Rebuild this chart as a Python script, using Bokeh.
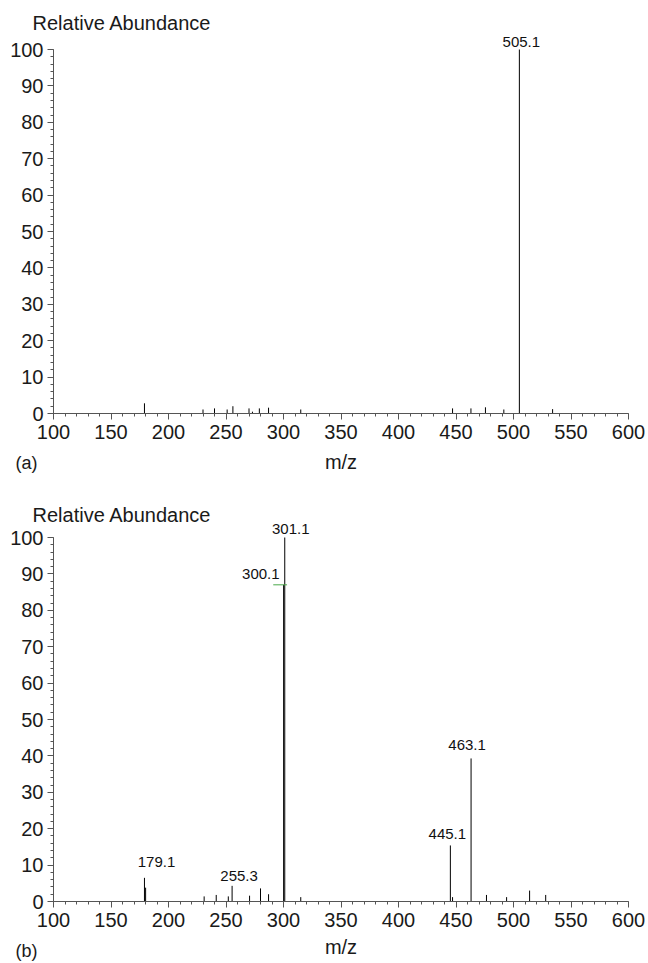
from bokeh.plotting import figure
from bokeh.models import Range1d, Label, FixedTicker, LinearAxis
from bokeh.layouts import column
from bokeh.embed import file_html
from bokeh.resources import INLINE

# ---- data: panel (a) ----
mz_a = [179.1, 230, 240, 251, 256, 270, 273, 279, 287, 315, 447, 463, 475.6, 491.6, 505.1, 534]
ab_a = [2.8, 1.1, 1.4, 1.1, 2.0, 1.4, 0.5, 1.4, 1.6, 1.1, 1.4, 1.4, 1.7, 1.1, 100, 1.2]
lab_a_mz = [505.1]
lab_a_ab = [100]
lab_a_txt = ["505.1"]
lab_a_dx = [2]
lab_a_dy = [8]

# ---- data: panel (b) ----
mz_b = [179.1, 180.1, 231, 241.5, 252, 255.3, 270.5, 280, 287, 300.1, 301.1, 315,
        445.1, 447, 463.1, 476.5, 494, 514, 528]
ab_b = [6.5, 3.8, 1.4, 1.8, 1.4, 4.3, 1.6, 3.6, 2.0, 87, 100, 1.2,
        15.4, 1.2, 39.3, 1.8, 1.2, 3.0, 1.8]
lab_b_mz = [179.1, 255.3, 301.1, 445.1, 463.1]
lab_b_ab = [6.5, 4.3, 100, 15.4, 39.3]
lab_b_txt = ["179.1", "255.3", "301.1", "445.1", "463.1"]
lab_b_dx = [12, 7, 6, -3, -4]
lab_b_dy = [16, 10, 9, 11, 13]
side_mz = [300.1]
side_ab = [87]
side_txt = ["300.1"]

x_ticks = list(range(100, 601, 50))
x_minor = list(range(100, 601, 10))
y_ticks = list(range(0, 101, 10))
y_minor = list(range(0, 101, 2))

FONT = "Liberation Sans"
AX = "#555555"
TXT = "#1a1a1a"
W = 648
# pixel layout (figure coordinates, from top-left)
X_LEFT_PX = 53      # where m/z 100 sits
X_RIGHT_PX = 628    # where m/z 600 sits


def make_panel(height, y100_px, y0_px, mz, ab, tag, title_y, tag_y, mz_y,
               lab_mz, lab_ab, lab_txt, lab_dx, lab_dy):
    sx = (X_RIGHT_PX - X_LEFT_PX) / 500.0
    x0 = 100 - X_LEFT_PX / sx
    x1 = 100 + (W - X_LEFT_PX) / sx
    sy = (y0_px - y100_px) / 100.0
    y1 = y0_px / sy
    y0 = (y0_px - height) / sy
    p = figure(width=W, height=height, x_range=Range1d(x0, x1), y_range=Range1d(y0, y1),
               output_backend="svg", toolbar_location=None, title=None,
               x_axis_location=None, y_axis_location=None, min_border=0)
    p.outline_line_color = None
    p.grid.visible = False
    p.background_fill_color = "white"
    p.border_fill_color = "white"

    xa = LinearAxis(fixed_location=0, bounds=(100, 600),
                    ticker=FixedTicker(ticks=x_ticks, minor_ticks=x_minor))
    ya = LinearAxis(fixed_location=100, bounds=(0, 100),
                    ticker=FixedTicker(ticks=y_ticks, minor_ticks=y_minor))
    for ax in (xa, ya):
        ax.axis_line_color = AX
        ax.major_tick_line_color = AX
        ax.minor_tick_line_color = AX
        ax.major_tick_out = 6
        ax.major_tick_in = 0
        ax.minor_tick_out = 3
        ax.minor_tick_in = 0
        ax.major_label_text_font = FONT
        ax.major_label_text_font_size = "20px"
        ax.major_label_text_color = TXT
    xa.major_label_standoff = 5
    ya.major_label_standoff = 4
    p.add_layout(xa, "below")
    p.add_layout(ya, "left")

    p.segment(x0=mz, y0=[0] * len(mz), x1=mz, y1=ab, line_color="black", line_width=1)

    p.add_layout(Label(x=32, y=title_y, x_units="screen", y_units="screen",
                       text="Relative Abundance", text_font=FONT, text_font_size="20px",
                       text_color=TXT, text_baseline="alphabetic"))
    p.add_layout(Label(x=15, y=tag_y, x_units="screen", y_units="screen",
                       text=tag, text_font=FONT, text_font_size="18px",
                       text_color=TXT, text_baseline="alphabetic"))
    p.add_layout(Label(x=(X_LEFT_PX + X_RIGHT_PX) / 2.0, y=mz_y, x_units="screen", y_units="screen",
                       text="m/z", text_font=FONT, text_font_size="20px", text_align="center",
                       text_color=TXT, text_baseline="alphabetic"))
    for i in range(len(lab_mz)):
        p.add_layout(Label(x=lab_mz[i], y=lab_ab[i], text=lab_txt[i], x_offset=lab_dx[i],
                           y_offset=lab_dy[i], text_align="center", text_baseline="alphabetic",
                           text_font=FONT, text_font_size="15px", text_color="#111111"))
    return p


p1 = make_panel(482, 49, 413, mz_a, ab_a, "(a)", 460, 20, 21,
                lab_a_mz, lab_a_ab, lab_a_txt, lab_a_dx, lab_a_dy)
p2 = make_panel(481, 55, 419, mz_b, ab_b, "(b)", 449, 13, 17,
                lab_b_mz, lab_b_ab, lab_b_txt, lab_b_dx, lab_b_dy)

# side label for 300.1 with green leader
p2.segment(x0=[m - 9 for m in side_mz], y0=side_ab, x1=[m + 3 for m in side_mz], y1=side_ab,
           line_color="#4aa84a", line_width=1)
p2.add_layout(Label(x=side_mz[0], y=side_ab[0], text=side_txt[0], x_offset=-4, y_offset=11,
                    text_align="right", text_baseline="alphabetic", text_font=FONT,
                    text_font_size="15px", text_color="#111111"))

layout = column(p1, p2, spacing=0)
open("out.html", "w").write(file_html(layout, INLINE))
